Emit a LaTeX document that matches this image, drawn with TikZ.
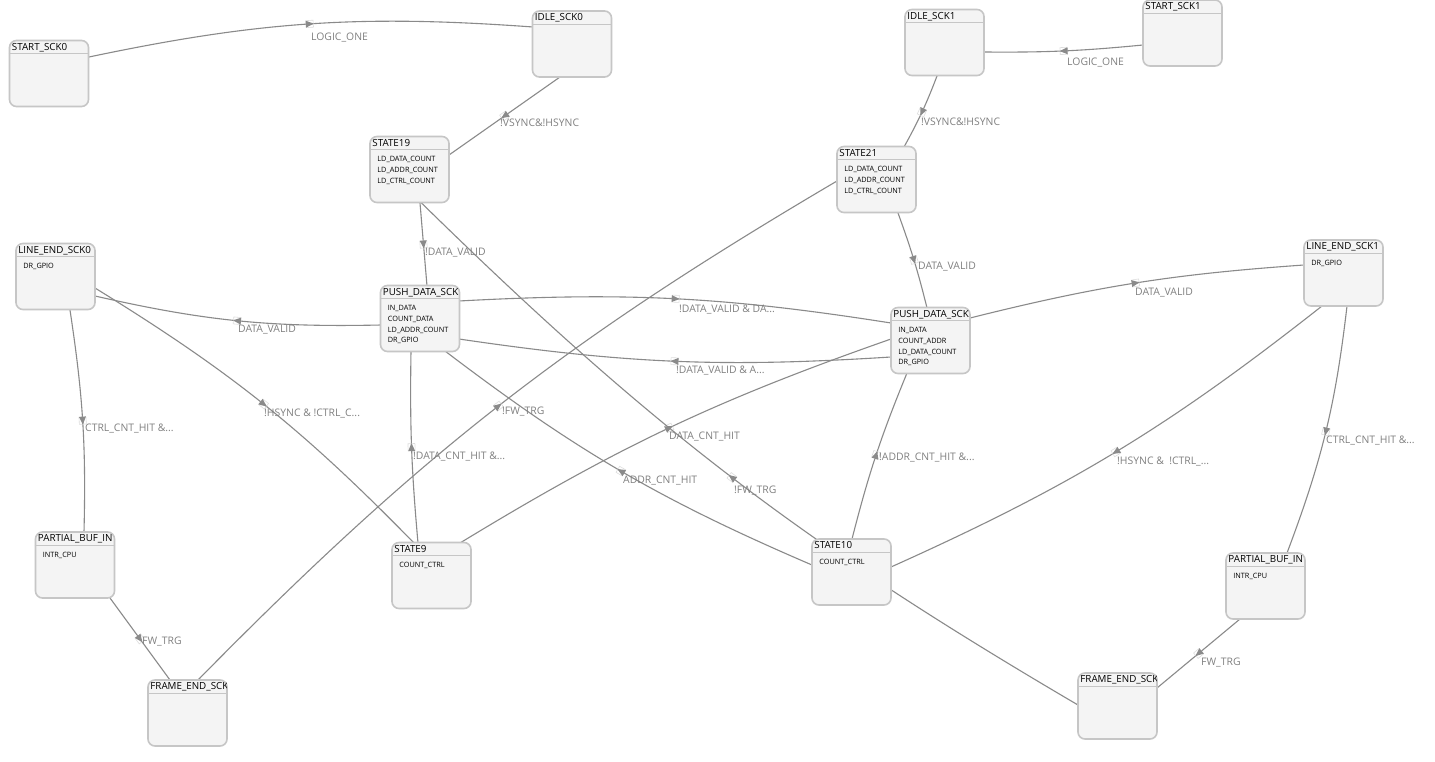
\documentclass[tikz,border=0pt]{standalone}
\usepackage{fontspec}
\setmainfont{Open Sans}
\usetikzlibrary{decorations.markings}
\pgfdeclarelayer{bg}
\pgfsetlayers{bg,main}
\definecolor{edgec}{HTML}{8A8A8A}
\definecolor{lblc}{HTML}{808080}
\definecolor{nodeb}{HTML}{C6C6C6}
\definecolor{nodef}{HTML}{F4F4F4}
\definecolor{sqc}{HTML}{DDDDDD}
\tikzset{
  st/.style={draw=nodeb, line width=1.6pt, fill=nodef, rounded corners=7pt,
    minimum width=79pt, minimum height=66pt, inner sep=0pt},
  hdr/.style={draw=nodeb, line width=1pt},
  ttl/.style={anchor=base west, font=\fontsize{9.8}{11}\selectfont, inner sep=0pt, text=black},
  bdy/.style={anchor=north west, font=\fontsize{7.3}{10.8}\selectfont, inner sep=0pt, align=left, text=black},
  lbl/.style={anchor=base west, font=\fontsize{10.4}{12}\selectfont, text=lblc, inner sep=0pt},
  edge/.style={draw=edgec, line width=1.1pt, postaction={decorate},
    decoration={markings, mark=at position 0.5 with {
      \draw[sqc, line width=0.6pt] (-3.5,-3.5) rectangle (3.5,3.5);
      \fill[edgec] (4,0) -- (-4,3.5) -- (-4,-3.5) -- cycle;}}}
}
\newcommand\mkstate[4]{%
  \node[st] (#1) at (#2) {};
  \begin{scope}
    \clip ([shift={(1,1)}]#1.north west) rectangle ([shift={(-1.5,14)}]#1.north east);
    \node[ttl] (#1t) at ([shift={(3,10.5)}]#1.north west) {#3};
  \end{scope}
  \draw[hdr] ([yshift=-14pt]#1.north west) -- ([yshift=-14pt]#1.north east);
  \node[bdy] (#1b) at ([shift={(8,20.4)}]#1.north west) {#4};
}
\begin{document}
\begin{tikzpicture}[x=1pt, y=-1pt]
\useasboundingbox (0,0) rectangle (1435,762);

\mkstate{s0}{49,73.5}{START\_SCK0}{}
\mkstate{i0}{572,44}{IDLE\_SCK0}{}
\mkstate{i1}{944.5,42.5}{IDLE\_SCK1}{}
\mkstate{s1}{1182.5,33}{START\_SCK1}{}
\mkstate{st19}{409.5,169.5}{STATE19}{LD\_DATA\_COUNT\\LD\_ADDR\_COUNT\\LD\_CTRL\_COUNT}
\mkstate{st21}{876.5,179.5}{STATE21}{LD\_DATA\_COUNT\\LD\_ADDR\_COUNT\\LD\_CTRL\_COUNT}
\mkstate{le0}{55.5,276.5}{LINE\_END\_SCK0}{DR\_GPIO}
\mkstate{p0}{420,318.5}{PUSH\_DATA\_SCK}{IN\_DATA\\COUNT\_DATA\\LD\_ADDR\_COUNT\\DR\_GPIO}
\mkstate{p1}{930.5,340.5}{PUSH\_DATA\_SCK}{IN\_DATA\\COUNT\_ADDR\\LD\_DATA\_COUNT\\DR\_GPIO}
\mkstate{le1}{1343.5,273}{LINE\_END\_SCK1}{DR\_GPIO}
\mkstate{pb0}{75,565}{PARTIAL\_BUF\_IN}{INTR\_CPU}
\mkstate{st9}{431.5,575.5}{STATE9}{COUNT\_CTRL}
\mkstate{st10}{851.5,572}{STATE10}{COUNT\_CTRL}
\mkstate{pb1}{1265.5,586}{PARTIAL\_BUF\_IN}{INTR\_CPU}
\mkstate{fe0}{187.5,713}{FRAME\_END\_SCK}{}
\mkstate{fe1}{1117.5,706}{FRAME\_END\_SCK}{}

\begin{pgfonlayer}{bg}
\fill[white] (0,0) rectangle (1435,762);
\draw[edge] ([shift={(40,-16.5)}]s0.center) to[bend left=8] ([shift={(-39,-17)}]i0.center);
\draw[edge] ([shift={(-12,33)}]i0.center) -- ([shift={(39.5,-14.5)}]st19.center);
\draw[edge] ([shift={(-39.5,12)}]s1.center) to[bend left=3] ([shift={(39.5,9.5)}]i1.center);
\draw[edge] ([shift={(-7.5,33.5)}]i1.center) to[bend left=4] ([shift={(27.5,-32.5)}]st21.center);
\draw[edge] ([shift={(10.5,33.5)}]st19.center) -- ([shift={(7,-32.5)}]p0.center);
\draw[edge] ([shift={(21.5,33.5)}]st21.center) to[bend left=3] ([shift={(-3.5,-32.5)}]p1.center);
\draw[edge] ([shift={(-39,6.5)}]p0.center) to[bend left=7] ([shift={(39.5,19.5)}]le0.center);
\draw[edge] ([shift={(39,-17.5)}]p0.center) to[bend left=6] ([shift={(-39.5,-17.5)}]p1.center);
\draw[edge] ([shift={(-39.5,16.5)}]p1.center) to[bend left=6] ([shift={(39,20.5)}]p0.center);
\draw[edge] ([shift={(39.5,-22.5)}]p1.center) to[bend left=5] ([shift={(-39.5,-8)}]le1.center);
\draw[edge] ([shift={(14.5,33.5)}]le0.center) to[bend left=5] ([shift={(9,-33)}]pb0.center);
\draw[edge] ([shift={(39.5,11.5)}]le0.center) to[bend left=7] ([shift={(-17.5,-32.5)}]st9.center);
\draw[edge] ([shift={(-13.5,-32.5)}]st9.center) to[bend left=3] ([shift={(-9,32.5)}]p0.center);
\draw[edge] ([shift={(35,33)}]pb0.center) -- ([shift={(-17.5,-33)}]fe0.center);
\draw[edge] ([shift={(10.5,-33)}]fe0.center) to[bend left=7.5] ([shift={(-39.5,1.5)}]st21.center);
\draw[edge] ([shift={(28.5,-32.5)}]st9.center) to[bend left=6] ([shift={(-39.5,-1.5)}]p1.center);
\draw[edge] ([shift={(-39.5,-7)}]st10.center) to[bend left=7] ([shift={(25,32.5)}]p0.center);
\draw[edge] ([shift={(-39.5,-1)}]fe1.center) to[bend left=7] ([shift={(12,33.5)}]st19.center);
\draw[edge] ([shift={(0.5,-33)}]st10.center) to[bend left=4] ([shift={(-23.5,32.5)}]p1.center);
\draw[edge] ([shift={(-21.5,33)}]le1.center) to[bend left=7] ([shift={(39.5,-5)}]st10.center);
\draw[edge] ([shift={(3.5,33)}]le1.center) to[bend left=7] ([shift={(21.5,-33)}]pb1.center);
\draw[edge] ([shift={(-25.5,33)}]pb1.center) -- ([shift={(39.5,-18)}]fe1.center);
\end{pgfonlayer}

\node[lbl] (l1) at (311,40.7) {LOGIC\_ONE};
\node[lbl] (l2) at (500,126.7) {!VSYNC\&!HSYNC};
\node[lbl] (l3) at (1067,65.7) {LOGIC\_ONE};
\node[lbl] (l4) at (921,125.7) {!VSYNC\&!HSYNC};
\node[lbl] (l5) at (425,255.7) {!DATA\_VALID};
\node[lbl] (l6) at (918,269.7) {DATA\_VALID};
\node[lbl] (l7) at (238,332.7) {DATA\_VALID};
\node[lbl] (l8) at (679,312.7) {!DATA\_VALID \& DA...};
\node[lbl] (l9) at (676,373.7) {!DATA\_VALID \& A...};
\node[lbl] (l10) at (1135,295.7) {DATA\_VALID};
\node[lbl] (l11) at (85,431.7) {CTRL\_CNT\_HIT \&...};
\node[lbl] (l12) at (264,416.7) {!HSYNC \& !CTRL\_C...};
\node[lbl] (l13) at (413,459.7) {!DATA\_CNT\_HIT \&...};
\node[lbl] (l14) at (142,644.7) {FW\_TRG};
\node[lbl] (l15) at (502,414.7) {!FW\_TRG};
\node[lbl] (l16) at (669,439.7) {DATA\_CNT\_HIT};
\node[lbl] (l17) at (623,483.7) {ADDR\_CNT\_HIT};
\node[lbl] (l18) at (734,493.7) {!FW\_TRG};
\node[lbl] (l19) at (879,460.7) {!ADDR\_CNT\_HIT \&...};
\node[lbl] (l20) at (1117,464.7) {!HSYNC \&\ \ !CTRL\_...};
\node[lbl] (l21) at (1326,443.7) {CTRL\_CNT\_HIT \&...};
\node[lbl] (l22) at (1201,665.7) {FW\_TRG};
\end{tikzpicture}
\end{document}
